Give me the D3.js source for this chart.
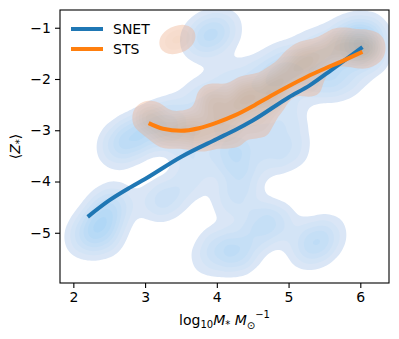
<!DOCTYPE html>
<html>
<head>
<meta charset="utf-8">
<script src="https://cdn.jsdelivr.net/npm/d3@7"></script>
<style>
  body { margin: 0; background: #fff; }
  text { font-family: "DejaVu Sans", sans-serif; }
</style>
</head>
<body>
<div id="chart"></div>
<script>
// density sample points: [log10 M*, <Z*>, weight]
const snetPoints = [
    [2.15, -5.1, 0.6], [2.35, -4.9, 0.7], [2.45, -4.6, 0.7], [2.6, -4.4, 0.5], [2.45, -5.1, 0.4],
    [2.6, -3.35, 0.6], [2.8, -3.15, 0.8], [3.05, -3.0, 0.7], [3.25, -2.85, 0.6],
    [3.75, -1.28, 0.5], [3.92, -1.12, 0.65], [4.1, -1.0, 0.45],
    [3.45, -2.7, 0.5], [3.8, -2.3, 0.5], [4.2, -2.05, 0.5], [4.6, -1.9, 0.5], [5.0, -1.6, 0.5], [5.4, -1.35, 0.5], [5.8, -1.2, 0.6], [6.1, -1.15, 0.6],
    [3.5, -3.2, 0.5], [3.9, -2.8, 0.5], [4.3, -2.5, 0.5], [4.7, -2.3, 0.5], [5.1, -2.0, 0.5], [5.5, -1.75, 0.5], [5.9, -1.5, 0.5], [6.03, -1.25, 0.8],
    [4.2, -3.2, 0.5], [4.6, -3.0, 0.5], [5.0, -2.75, 0.5], [5.48, -2.05, 0.6], [5.8, -2.0, 0.5], [6.15, -1.6, 0.4], [4.88, -1.89, 0.5],
    [3.75, -3.6, 0.5], [4.25, -3.55, 0.8], [4.75, -3.5, 0.5], [5.05, -3.35, 0.5], [4.35, -4.0, 0.55], [4.2, -4.4, 0.5],
    [3.3, -4.3, 0.5], [3.6, -4.05, 0.4], [3.15, -4.45, 0.35],
    [4.28, -5.4, 0.9], [4.0, -5.25, 0.5], [4.55, -5.05, 0.45], [3.85, -5.55, 0.3], [4.84, -4.8, 0.6], [4.6, -4.7, 0.4],
    [5.39, -5.18, 0.8], [5.22, -5.38, 0.35], [5.58, -4.98, 0.35]
];
const stsPoints = [
    [3.3, -1.32, 0.25], [3.45, -1.23, 0.28], [3.6, -1.14, 0.25],
    [3.1, -2.72, 0.5], [3.0, -2.78, 0.35],
    [3.3, -3.05, 0.7], [3.6, -2.95, 0.9], [3.95, -2.42, 0.9], [4.0, -2.85, 0.7], [4.3, -2.6, 0.8],
    [4.42, -2.28, 1.0], [4.79, -2.16, 1.0], [4.7, -2.5, 0.6], [5.0, -1.9, 0.7], [5.2, -1.63, 0.9],
    [5.45, -1.55, 0.7], [5.72, -1.34, 0.9], [6.0, -1.45, 0.7], [6.14, -1.38, 0.6],
    [4.2, -3.1, 0.5], [4.6, -2.95, 0.4], [3.8, -3.15, 0.5], [5.3, -2.1, 0.5]
];

// mean relations
const snetX = [2.2, 2.5, 2.8, 3.0, 3.5, 4.0, 4.25, 4.5, 5.0, 5.3, 5.6, 6.03];
const snetY = [-4.69, -4.37, -4.11, -3.95, -3.52, -3.17, -3.0, -2.81, -2.36, -2.12, -1.82, -1.38];
const stsX = [3.05, 3.25, 3.5, 3.75, 4.0, 4.25, 4.5, 4.75, 5.0, 5.25, 5.5, 5.75, 6.03];
const stsY = [-2.86, -2.97, -3.01, -2.96, -2.85, -2.71, -2.53, -2.33, -2.14, -1.96, -1.8, -1.65, -1.47];

const seriesNames = ["SNET", "STS"];
const seriesColors = ["#1f77b4", "#ff7f0e"];
const xTicks = [2, 3, 4, 5, 6];
const yTicks = [-1, -2, -3, -4, -5];

const W = 399, H = 339;
const margin = {top: 10, right: 10, bottom: 56, left: 60};
const width = W - margin.left - margin.right;
const height = H - margin.top - margin.bottom;

const svg = d3.select("#chart").append("svg")
    .attr("width", W)
    .attr("height", H);

const x = d3.scaleLinear().domain([1.814, 6.40]).range([0, width]);
const y = d3.scaleLinear().domain([-5.98, -0.654]).range([height, 0]);

const g = svg.append("g")
    .attr("transform", `translate(${margin.left}, ${margin.top})`);

g.append("clipPath").attr("id", "clip")
    .append("rect").attr("width", width).attr("height", height);

function drawDensity(points, bw, c0, c1, opacity, lowFrac) {
    const dens = d3.contourDensity()
        .x(d => x(d[0]))
        .y(d => y(d[1]))
        .weight(d => d[2])
        .size([width, height])
        .cellSize(2)
        .bandwidth(bw);
    const cf = dens.contours(points);
    const nLev = 9;
    const layer = g.append("g")
        .attr("clip-path", "url(#clip)")
        .attr("opacity", opacity);
    const col = d3.interpolateRgb(c0, c1);
    for (let i = 0; i < nLev; i++) {
        const f = lowFrac + (0.95 - lowFrac) * i / (nLev - 1);
        layer.append("path")
            .attr("d", d3.geoPath()(cf(f * cf.max)))
            .attr("fill", col(i / (nLev - 1)));
    }
}

drawDensity(snetPoints, 13, "#dae6f6", "#a2d2f6", 1, 0.12);
drawDensity(stsPoints, 10, "#efb08e", "#cf8040", 0.4, 0.2);

const line = d3.line().curve(d3.curveMonotoneX);
g.append("path")
    .attr("d", line(snetX.map((v, i) => [x(v), y(snetY[i])])))
    .attr("fill", "none").attr("stroke", seriesColors[0]).attr("stroke-width", 4);
g.append("path")
    .attr("d", line(stsX.map((v, i) => [x(v), y(stsY[i])])))
    .attr("fill", "none").attr("stroke", seriesColors[1]).attr("stroke-width", 4);

// axes
const minus = d => d < 0 ? "\u2212" + Math.abs(d) : String(d);
const xAxis = d3.axisBottom(x).tickValues(xTicks).tickSize(5).tickPadding(4).tickSizeOuter(0).tickFormat(minus);
const yAxis = d3.axisLeft(y).tickValues(yTicks).tickSize(5).tickPadding(4).tickSizeOuter(0).tickFormat(minus);

const xg = g.append("g").attr("transform", `translate(0, ${height})`).call(xAxis);
const yg = g.append("g").call(yAxis);
[xg, yg].forEach(a => {
    a.select(".domain").remove();
    a.selectAll("line").attr("stroke", "#000").attr("stroke-width", 1.1);
    a.selectAll("text").attr("fill", "#000").style("font-size", "14px").style("font-family", "DejaVu Sans");
});

g.append("rect")
    .attr("width", width).attr("height", height)
    .attr("fill", "none").attr("stroke", "#000").attr("stroke-width", 1.1);

// legend
const legend = g.append("g").attr("transform", "translate(11, 19)");
seriesNames.forEach((name, i) => {
    legend.append("line")
        .attr("x1", 0).attr("x2", 32)
        .attr("y1", i * 20).attr("y2", i * 20)
        .attr("stroke", seriesColors[i]).attr("stroke-width", 4);
    legend.append("text")
        .attr("x", 42).attr("y", i * 20 + 5)
        .style("font-size", "14px")
        .text(name);
});

// axis labels
const xl = svg.append("text")
    .attr("x", margin.left + width / 2).attr("y", 325)
    .attr("text-anchor", "middle")
    .style("font-size", "14px");
xl.append("tspan").text("log");
xl.append("tspan").attr("dy", 3).style("font-size", "10px").text("10");
xl.append("tspan").attr("dy", -3).style("font-style", "italic").text("M");
xl.append("tspan").attr("dy", 3).style("font-size", "10px").text("*");
xl.append("tspan").attr("dy", -3).text(" ");
xl.append("tspan").style("font-style", "italic").text("M");
xl.append("tspan").attr("dy", 4).style("font-size", "10px").text("\u2299");
xl.append("tspan").attr("dy", -11).style("font-size", "10px").text("\u22121");

const yl = svg.append("text")
    .attr("transform", `translate(20, ${margin.top + height / 2}) rotate(-90)`)
    .attr("text-anchor", "middle")
    .style("font-size", "14px");
yl.append("tspan").text("\u27e8");
yl.append("tspan").style("font-style", "italic").text("Z");
yl.append("tspan").attr("dy", 3).style("font-size", "10px").text("*");
yl.append("tspan").attr("dy", -3).text("\u27e9");
</script>
</body>
</html>
